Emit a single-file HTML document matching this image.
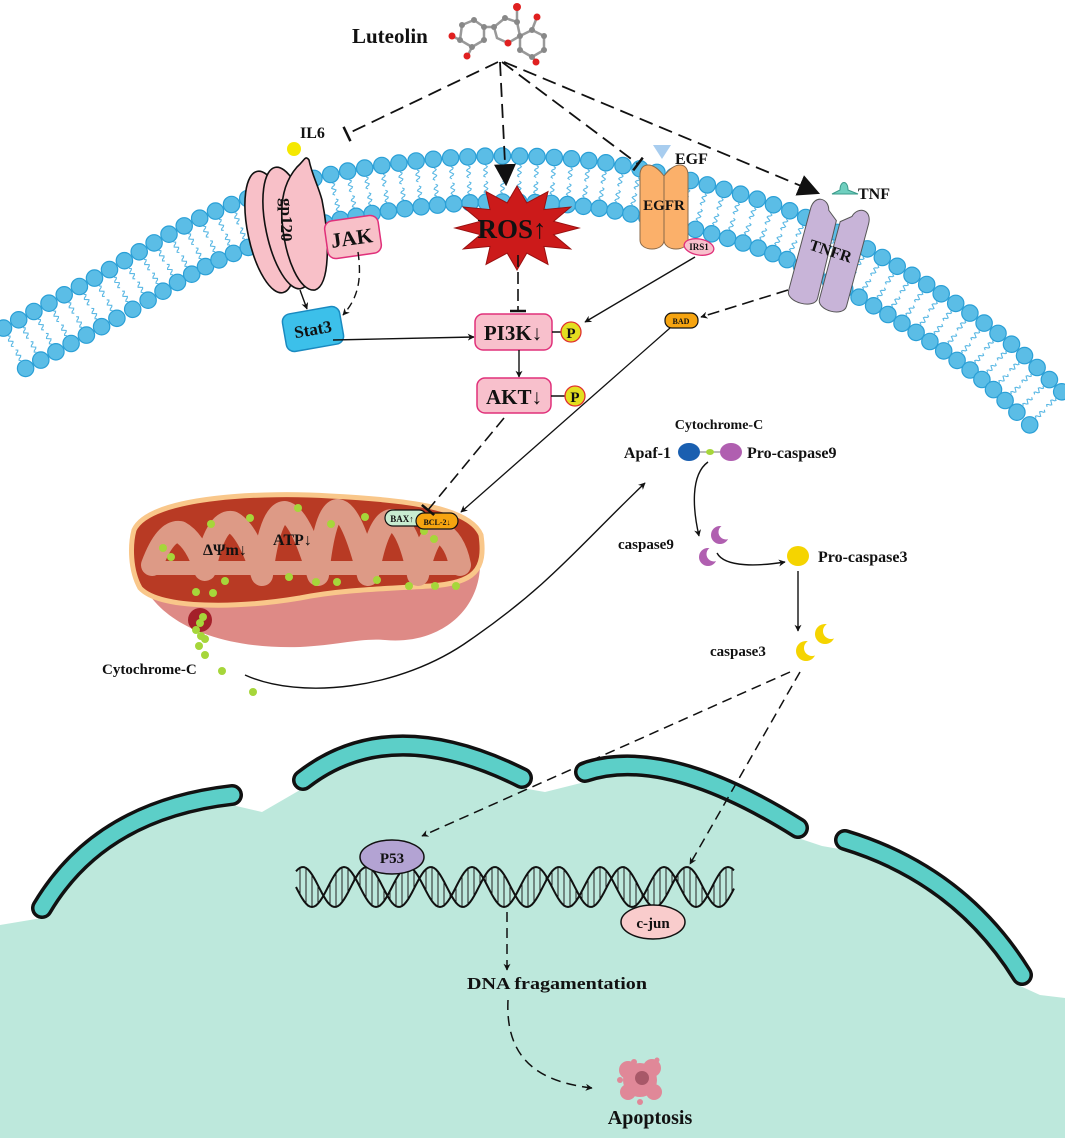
<!DOCTYPE html>
<html><head><meta charset="utf-8"><style>
html,body{margin:0;padding:0;background:#fff}
svg{display:block}
text{font-family:"Liberation Serif",serif;font-weight:bold;fill:#111}
</style></head><body>
<svg id="s" width="1065" height="1138" viewBox="0 0 1065 1138" xmlns="http://www.w3.org/2000/svg">
<defs>
<marker id="a" viewBox="0 0 10 10" refX="9" refY="5" markerWidth="7" markerHeight="7" orient="auto" markerUnits="userSpaceOnUse"><path d="M0,0 L10,5 L0,10 L3,5 Z" fill="#111"/></marker>
<marker id="big" viewBox="0 0 10 10" refX="9" refY="5" markerWidth="22" markerHeight="22" orient="auto" markerUnits="userSpaceOnUse"><path d="M0,0 L10,5 L0,10 Z" fill="#111"/></marker>
<marker id="t" viewBox="0 0 4 16" refX="2" refY="8" markerWidth="4" markerHeight="16" orient="auto" markerUnits="userSpaceOnUse"><path d="M2,0 L2,16" stroke="#111" stroke-width="2.5"/></marker>
</defs>
<rect width="1065" height="1138" fill="#fff"/>
<g id="mem"></g>

<!-- nucleus -->
<path d="M0,925 L42,918 Q100,820 232,805 L262,812 L300,790 Q390,722 522,788 L545,792 L585,782 Q665,755 798,838 L822,846 L845,850 Q955,885 1018,985 L1040,995 L1065,998 L1065,1138 L0,1138 Z" fill="#bde8dc"/>
<g fill="none" stroke-linecap="round">
<path d="M42,908 Q100,810 232,795" stroke="#111" stroke-width="22"/>
<path d="M42,908 Q100,810 232,795" stroke="#5ccfc8" stroke-width="15"/>
<path d="M303,780 Q390,712 522,778" stroke="#111" stroke-width="22"/>
<path d="M303,780 Q390,712 522,778" stroke="#5ccfc8" stroke-width="15"/>
<path d="M585,772 Q665,745 798,828" stroke="#111" stroke-width="22"/>
<path d="M585,772 Q665,745 798,828" stroke="#5ccfc8" stroke-width="15"/>
<path d="M845,840 Q960,875 1022,975" stroke="#111" stroke-width="22"/>
<path d="M845,840 Q960,875 1022,975" stroke="#5ccfc8" stroke-width="15"/>
</g>
<g id="dna"></g>
<ellipse cx="392" cy="857" rx="32" ry="17" fill="#b3a3d3" stroke="#111" stroke-width="1.5"/>
<text x="392" y="863" font-size="15" text-anchor="middle" font-weight="normal">P53</text>
<ellipse cx="653" cy="922" rx="32" ry="17" fill="#f9cccc" stroke="#111" stroke-width="1.5"/>
<text x="653" y="928" font-size="15" text-anchor="middle">c-jun</text>
<g stroke="#111" stroke-width="1.5" fill="none" stroke-dasharray="10,6">
<line x1="790" y1="672" x2="422" y2="836" marker-end="url(#a)"/>
<line x1="800" y1="672" x2="690" y2="864" marker-end="url(#a)"/>
<line x1="507" y1="912" x2="507" y2="970" marker-end="url(#a)"/>
<path d="M508,1000 C505,1060 540,1082 592,1088" marker-end="url(#a)"/>
</g>
<text x="467" y="989" font-size="17" textLength="180" lengthAdjust="spacingAndGlyphs">DNA fragamentation</text>
<g>
<circle cx="640" cy="1080" r="17" fill="#e08898"/>
<circle cx="628" cy="1070" r="9" fill="#e08898"/><circle cx="652" cy="1068" r="9" fill="#e08898"/>
<circle cx="628" cy="1092" r="8" fill="#e08898"/><circle cx="654" cy="1092" r="8" fill="#e08898"/>
<circle cx="634" cy="1062" r="3" fill="#e08898"/><circle cx="657" cy="1060" r="2.5" fill="#e08898"/><circle cx="640" cy="1102" r="3" fill="#e08898"/><circle cx="620" cy="1080" r="3" fill="#e08898"/>
<circle cx="642" cy="1078" r="7" fill="#a85868"/>
</g>
<text x="650" y="1124" font-size="20" text-anchor="middle">Apoptosis</text>

<!-- mitochondrion -->
<path d="M135,545 C132,610 200,650 300,647 C340,645 360,638 385,640 C440,645 482,610 480,560 Z" fill="#de8a86"/>
<path d="M134,530 C150,495 270,492 330,496 C410,500 470,508 481,535 C486,570 475,583 430,586 C380,589 340,590 300,598 C240,608 160,610 140,588 C130,570 130,545 134,530 Z" fill="#b83a24" stroke="#f9c78a" stroke-width="5"/>
<g fill="none" stroke="#dd9a86" stroke-linecap="round" stroke-linejoin="round">
<path d="M152,565 Q165,530 180,532 Q195,540 205,570 Q215,520 232,522 Q248,530 262,575 Q270,512 285,512 Q300,515 318,575 Q325,510 338,510 Q352,512 368,575 Q378,520 392,520 Q408,525 418,575 Q428,532 440,532 Q455,540 460,565" stroke-width="22"/>
<line x1="155" y1="568" x2="455" y2="568" stroke-width="14"/>
</g>
<g fill="#a6d63a">
<circle cx="163" cy="548" r="4"/><circle cx="171" cy="557" r="4"/><circle cx="211" cy="524" r="4"/><circle cx="250" cy="518" r="4"/><circle cx="298" cy="508" r="4"/><circle cx="331" cy="524" r="4"/><circle cx="365" cy="517" r="4"/><circle cx="225" cy="581" r="4"/><circle cx="196" cy="592" r="4"/><circle cx="213" cy="593" r="4"/><circle cx="289" cy="577" r="4"/><circle cx="316" cy="582" r="4"/><circle cx="337" cy="582" r="4"/><circle cx="377" cy="580" r="4"/><circle cx="409" cy="586" r="4"/><circle cx="435" cy="586" r="4"/><circle cx="456" cy="586" r="4"/><circle cx="424" cy="531" r="4"/><circle cx="434" cy="539" r="4"/>
</g>
<circle cx="200" cy="620" r="12" fill="#a4202a"/>
<g fill="#a6d63a"><circle cx="203" cy="617" r="4"/><circle cx="200" cy="623" r="4"/><circle cx="196" cy="630" r="4"/><circle cx="201" cy="636" r="4"/><circle cx="205" cy="639" r="4"/><circle cx="199" cy="646" r="4"/><circle cx="205" cy="655" r="4"/><circle cx="222" cy="671" r="4"/><circle cx="253" cy="692" r="4"/></g>
<text x="203" y="555" font-size="16">ΔΨm↓</text>
<text x="273" y="545" font-size="16">ATP↓</text>
<rect x="385" y="510" width="42" height="16" rx="8" fill="#c8ecd0" stroke="#111" stroke-width="1.2"/>
<rect x="416" y="513" width="42" height="16" rx="8" fill="#f6a410" stroke="#111" stroke-width="1.2"/>
<text x="402" y="522" font-size="9" text-anchor="middle" font-weight="normal">BAX↑</text>
<text x="437" y="525" font-size="8" text-anchor="middle">BCL-2↓</text>
<text x="102" y="674" font-size="15">Cytochrome-C</text>
<path d="M245,675 C300,700 400,690 470,640 C550,585 580,545 645,483" fill="none" stroke="#111" stroke-width="1.4" marker-end="url(#a)"/>

<!-- caspase cascade -->
<text x="719" y="429" font-size="14" text-anchor="middle">Cytochrome-C</text>
<text x="671" y="458" font-size="16" text-anchor="end">Apaf-1</text>
<ellipse cx="689" cy="452" rx="11" ry="9" fill="#1a5fb0"/>
<line x1="700" y1="452" x2="720" y2="452" stroke="#777" stroke-width="1"/>
<ellipse cx="710" cy="452" rx="4" ry="3" fill="#a6d63a"/>
<ellipse cx="731" cy="452" rx="11" ry="9" fill="#b05fb0"/>
<text x="747" y="458" font-size="16">Pro-caspase9</text>
<path d="M708,462 C690,475 693,510 699,536" fill="none" stroke="#111" stroke-width="1.4" marker-end="url(#a)"/>
<text x="618" y="549" font-size="15">caspase9</text>
<circle cx="720" cy="535" r="9" fill="#b05fb0"/><circle cx="726" cy="532" r="7.5" fill="#fff"/>
<circle cx="708" cy="557" r="9" fill="#b05fb0"/><circle cx="714" cy="554" r="7.5" fill="#fff"/>
<path d="M717,553 C725,568 760,566 785,562" fill="none" stroke="#111" stroke-width="1.4" marker-end="url(#a)"/>
<ellipse cx="798" cy="556" rx="11" ry="10" fill="#f5d400"/>
<text x="818" y="562" font-size="16">Pro-caspase3</text>
<line x1="798" y1="571" x2="798" y2="631" stroke="#111" stroke-width="1.4" marker-end="url(#a)"/>
<text x="710" y="656" font-size="15">caspase3</text>
<circle cx="806" cy="651" r="10" fill="#f5d400"/><circle cx="812" cy="648" r="8" fill="#fff"/>
<circle cx="825" cy="634" r="10" fill="#f5d400"/><circle cx="831" cy="631" r="8" fill="#fff"/>

<!-- luteolin molecule -->
<g stroke="#999" stroke-width="2.5" fill="none">
<polygon points="462,25 474,20 484,27 484,40 472,47 460,40"/>
<polygon points="494,27 505,18 517,22 520,36 508,43 497,38"/>
<polygon points="520,36 532,30 544,36 544,50 532,57 520,50"/>
<line x1="484" y1="27" x2="494" y2="27"/><line x1="517" y1="22" x2="517" y2="8"/>
<line x1="460" y1="40" x2="452" y2="36"/><line x1="472" y1="47" x2="468" y2="55"/>
<line x1="532" y1="30" x2="537" y2="17"/><line x1="532" y1="57" x2="537" y2="62"/>
</g>
<g fill="#888"><circle cx="462" cy="25" r="3"/><circle cx="474" cy="20" r="3"/><circle cx="484" cy="27" r="3"/><circle cx="484" cy="40" r="3"/><circle cx="472" cy="47" r="3"/><circle cx="460" cy="40" r="3"/><circle cx="494" cy="27" r="3"/><circle cx="505" cy="18" r="3"/><circle cx="517" cy="22" r="3"/><circle cx="520" cy="36" r="3"/><circle cx="532" cy="30" r="3"/><circle cx="544" cy="36" r="3"/><circle cx="544" cy="50" r="3"/><circle cx="532" cy="57" r="3"/><circle cx="520" cy="50" r="3"/></g>
<g fill="#e02020"><circle cx="517" cy="7" r="4"/><circle cx="508" cy="43" r="3.5"/><circle cx="452" cy="36" r="3.5"/><circle cx="467" cy="56" r="3.5"/><circle cx="537" cy="17" r="3.5"/><circle cx="536" cy="62" r="3.5"/></g>
<text x="352" y="43" font-size="21">Luteolin</text>

<!-- luteolin arrows -->
<g stroke="#111" stroke-width="1.8" fill="none" stroke-dasharray="14,7">
<line x1="498" y1="62" x2="347" y2="134" marker-end="url(#t)"/>
<line x1="500" y1="62" x2="506" y2="184" marker-end="url(#big)"/>
<line x1="502" y1="62" x2="638" y2="164" marker-end="url(#t)"/>
<line x1="504" y1="62" x2="818" y2="193" marker-end="url(#big)"/>
</g>

<!-- IL6 / gp120 -->
<circle cx="294" cy="149" r="7" fill="#f5e800"/>
<text x="300" y="138" font-size="16">IL6</text>
<g fill="#f8c0c8" stroke="#111" stroke-width="1.6">
<ellipse cx="270" cy="232" rx="22" ry="62" transform="rotate(-12 270 232)"/>
<ellipse cx="288" cy="228" rx="22" ry="62" transform="rotate(-12 288 228)"/>
<path d="M297,167 C305,160 305,155 309,160 C312,175 318,185 322,200 C330,240 330,285 315,290 C300,292 285,260 282,220 C280,190 290,175 297,167 Z"/>
</g>
<text x="0" y="0" font-size="17" font-weight="normal" transform="translate(281,198) rotate(90)">gp120</text>
<rect x="326" y="218" width="54" height="38" rx="8" fill="#f8c0c8" stroke="#e0307a" stroke-width="1.5" transform="rotate(-8 353 237)"/>
<text x="352" y="245" font-size="21" text-anchor="middle" transform="rotate(-8 352 240)">JAK</text>
<rect x="284" y="310" width="58" height="38" rx="8" fill="#3cc0ea" stroke="#1a8ac0" stroke-width="1.5" transform="rotate(-10 313 329)"/>
<text x="313" y="335" font-size="17" text-anchor="middle" transform="rotate(-10 313 330)">Stat3</text>
<line x1="300" y1="290" x2="307" y2="309" stroke="#111" stroke-width="1.4" marker-end="url(#a)"/>
<path d="M358,252 C362,280 358,298 343,315" fill="none" stroke="#111" stroke-width="1.4" stroke-dasharray="8,5" marker-end="url(#a)"/>
<line x1="333" y1="340" x2="474" y2="337" stroke="#111" stroke-width="1.4" marker-end="url(#a)"/>

<!-- ROS -->
<polygon id="ros" fill="#cc1a1a" stroke="#991010" stroke-width="1"/>
<text x="512" y="238" font-size="27" text-anchor="middle">ROS↑</text>
<line x1="518" y1="255" x2="518" y2="311" stroke="#111" stroke-width="1.6" stroke-dasharray="12,5" marker-end="url(#t)"/>

<!-- PI3K / AKT -->
<rect x="475" y="314" width="77" height="36" rx="8" fill="#f8c0cc" stroke="#e0307a" stroke-width="1.5"/>
<text x="513" y="340" font-size="21" text-anchor="middle">PI3K↓</text>
<line x1="552" y1="332" x2="561" y2="332" stroke="#111" stroke-width="1.5"/>
<circle cx="571" cy="332" r="10" fill="#e3df20" stroke="#e03030" stroke-width="1.3"/>
<text x="571" y="338" font-size="15" text-anchor="middle" font-weight="normal">P</text>
<line x1="519" y1="350" x2="519" y2="377" stroke="#111" stroke-width="1.4" marker-end="url(#a)"/>
<rect x="477" y="378" width="74" height="35" rx="8" fill="#f8c0cc" stroke="#e0307a" stroke-width="1.5"/>
<text x="514" y="404" font-size="21" text-anchor="middle">AKT↓</text>
<line x1="551" y1="396" x2="565" y2="396" stroke="#111" stroke-width="1.5"/>
<circle cx="575" cy="396" r="10" fill="#e3df20" stroke="#e03030" stroke-width="1.3"/>
<text x="575" y="402" font-size="15" text-anchor="middle" font-weight="normal">P</text>
<line x1="504" y1="418" x2="428" y2="510" stroke="#111" stroke-width="1.6" stroke-dasharray="12,6" marker-end="url(#t)"/>

<!-- EGFR -->
<polygon points="653,145 671,145 662,159" fill="#a8cdef"/>
<text x="675" y="164" font-size="16">EGF</text>
<g fill="#fbb06a" stroke="#8a6a4a" stroke-width="1">
<path d="M640,175 C640,163 652,160 664,176 L664,240 C664,252 640,252 640,240 Z"/>
<path d="M664,176 C676,160 688,163 688,175 L688,240 C688,252 664,252 664,240 Z"/>
</g>
<text x="664" y="210" font-size="15" text-anchor="middle">EGFR</text>
<ellipse cx="699" cy="247" rx="15" ry="8" fill="#f8c0cc" stroke="#e0307a" stroke-width="1.3" transform="rotate(10 699 247)"/>
<text x="699" y="250" font-size="9" text-anchor="middle" font-weight="normal">IRS1</text>
<line x1="695" y1="257" x2="585" y2="322" stroke="#111" stroke-width="1.4" marker-end="url(#a)"/>

<!-- TNFR -->
<path d="M840,190 C840,180 848,180 848,190 L858,194 L832,194 Z" fill="#6fcfbf" stroke="#3a9a8a" stroke-width="1"/>
<text x="858" y="199" font-size="16">TNF</text>
<g transform="rotate(15 830 252)" fill="#c8b4d8" stroke="#555" stroke-width="1">
<path d="M800,215 C800,200 815,200 818,212 L828,220 L830,300 C830,312 800,312 800,300 Z"/>
<path d="M832,220 L842,212 C845,200 860,200 860,215 L860,300 C860,312 832,312 832,300 Z"/>
</g>
<text x="0" y="0" font-size="16" text-anchor="middle" transform="translate(829,256) rotate(18)">TNFR</text>
<line x1="788" y1="290" x2="701" y2="317" stroke="#111" stroke-width="1.6" stroke-dasharray="12,6" marker-end="url(#a)"/>
<rect x="665" y="313" width="33" height="15" rx="7" fill="#f6a410" stroke="#111" stroke-width="1.2"/>
<text x="681" y="324" font-size="8" text-anchor="middle">BAD</text>
<line x1="670" y1="328" x2="461" y2="512" stroke="#111" stroke-width="1.3" marker-end="url(#a)"/>
</svg>
<script>
(function(){
var NS="http://www.w3.org/2000/svg";
var P=[[-40,352],[0,330],[100,275],[200,218],[300,182],[400,163],[500,156],[600,162],[700,183],[800,215],[900,268],[1000,335],[1065,395],[1110,440]];
var d="M"+P[1][0]+","+P[1][1];
for(var i=1;i<P.length-2;i++){var p0=P[i-1],p1=P[i],p2=P[i+1],p3=P[i+2];
d+=" C"+(p1[0]+(p2[0]-p0[0])/6)+","+(p1[1]+(p2[1]-p0[1])/6)+" "+(p2[0]-(p3[0]-p1[0])/6)+","+(p2[1]-(p3[1]-p1[1])/6)+" "+p2[0]+","+p2[1];}
var g=document.getElementById("mem");
var path=document.createElementNS(NS,"path");path.setAttribute("d",d);path.setAttribute("fill","none");g.appendChild(path);
var L=path.getTotalLength();
var tails="",heads="";
function wavy(x,y,nx,ny,tx,ty,a,b){var s="";for(var k=0;k<=10;k++){var u=a+(b-a)*k/10;var w=2*Math.sin(k*Math.PI/2.5);s+=(k?"L":"M")+(x+nx*u+tx*w).toFixed(1)+","+(y+ny*u+ty*w).toFixed(1);}return s;}
for(var s=4;s<L;s+=17.3){var p=path.getPointAtLength(s),q=path.getPointAtLength(Math.min(L,s+1));var tx=q.x-p.x,ty=q.y-p.y,m=Math.hypot(tx,ty)||1;tx/=m;ty/=m;var nx=-ty,ny=tx;
tails+=wavy(p.x,p.y,nx,ny,tx,ty,9,21);tails+=wavy(p.x,p.y,nx,ny,tx,ty,25,37);
heads+='<circle cx="'+p.x.toFixed(1)+'" cy="'+p.y.toFixed(1)+'" r="8.2"/>';
heads+='<circle cx="'+(p.x+nx*46).toFixed(1)+'" cy="'+(p.y+ny*46).toFixed(1)+'" r="8.2"/>';}
g.innerHTML='<path d="'+tails+'" fill="none" stroke="#5ab8e4" stroke-width="1.1"/><g fill="#5bbde6" stroke="#2a9fd6" stroke-width="1.2">'+heads+'</g>';
var dg=document.getElementById("dna"),s1="",s2="",r="";
var cy=887,A=20,per=64;
for(var x=296;x<=735;x+=2){var y1=cy+A*Math.sin((x-296)/per*2*Math.PI),y2=cy-A*Math.sin((x-296)/per*2*Math.PI+0.9);s1+=(x==296?"M":"L")+x+","+y1.toFixed(1);s2+=(x==296?"M":"L")+x+","+y2.toFixed(1);if(x%6==0)r+="M"+x+","+y1.toFixed(1)+"L"+x+","+y2.toFixed(1);}
dg.innerHTML='<path d="'+r+'" stroke="#222" stroke-width="1" fill="none"/><path d="'+s1+'" stroke="#111" stroke-width="2" fill="none"/><path d="'+s2+'" stroke="#111" stroke-width="2" fill="none"/>';
var pts=[],cx=517,cyy=228,n=12;for(var k=0;k<2*n;k++){var ang=-Math.PI/2+k*Math.PI/n;var rx=k%2?38:62,ry=k%2?26:42;pts.push((cx+rx*Math.cos(ang)).toFixed(1)+","+(cyy+ry*Math.sin(ang)).toFixed(1));}
document.getElementById("ros").setAttribute("points",pts.join(" "));
})();
</script>
</body></html>
